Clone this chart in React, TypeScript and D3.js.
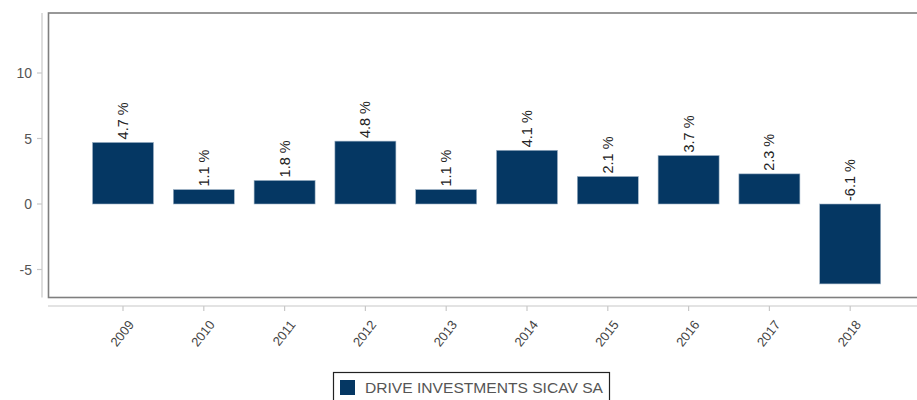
import React from "react";
import * as d3 from "d3";

const years = ["2009", "2010", "2011", "2012", "2013", "2014", "2015", "2016", "2017", "2018"];
const values = [4.7, 1.1, 1.8, 4.8, 1.1, 4.1, 2.1, 3.7, 2.3, -6.1];
const yTicks = [-5, 0, 5, 10];
const seriesName = "DRIVE INVESTMENTS SICAV SA";

const W = 917;
const H = 400;
const BAR = "#053763";
const FONT = "Arial, 'Liberation Sans', sans-serif";

export default function App() {
  const y = d3.scaleLinear().domain([0, 10]).range([204, 73]);
  const x = d3
    .scaleBand<string>()
    .domain(years)
    .range([82.6, 890.6])
    .paddingInner(0.245)
    .paddingOuter(0.1225);

  const top = 13;
  const bottom = 297.5;

  return (
    <svg
      width={W}
      height={H}
      style={{ position: "absolute", left: 0, top: 0, background: "#fff" }}
      fontFamily={FONT}
    >
      {/* plot box */}
      <rect x={48.5} y={top} width={W + 10} height={bottom - top} fill="none" stroke="#7f7f7f" strokeWidth={1.6} />
      {/* y axis */}
      <line x1={42} x2={42} y1={top} y2={bottom} stroke="#c8c8c8" strokeWidth={1.2} />
      {yTicks.map((t) => (
        <g key={t}>
          <line x1={37} x2={42} y1={y(t)} y2={y(t)} stroke="#c8c8c8" strokeWidth={1.2} />
          <text x={32} y={y(t)} dy="0.36em" textAnchor="end" fontSize={14} fill="#555">
            {t}
          </text>
        </g>
      ))}
      {/* x axis */}
      <line x1={48} x2={W} y1={306} y2={306} stroke="#c8c8c8" strokeWidth={1.2} />
      {years.map((yr) => {
        const cx = (x(yr) as number) + x.bandwidth() / 2;
        return (
          <g key={yr}>
            <line x1={cx} x2={cx} y1={306} y2={311} stroke="#c8c8c8" strokeWidth={1.2} />
            <text
              transform={`translate(${cx + 8},${322}) rotate(-52)`}
              textAnchor="end"
              dy="0.35em"
              fontSize={13}
              fill="#444"
            >
              {yr}
            </text>
          </g>
        );
      })}
      {/* bars */}
      {years.map((yr, i) => {
        const v = values[i];
        const bx = x(yr) as number;
        const y0 = y(Math.max(0, v));
        const y1 = y(Math.min(0, v));
        return (
          <rect
            key={yr}
            x={bx}
            y={y0}
            width={x.bandwidth()}
            height={y1 - y0}
            fill={BAR}
            stroke="#9fb3c6"
            strokeWidth={0.6}
          />
        );
      })}
      {/* labels */}
      {years.map((yr, i) => {
        const v = values[i];
        const cx = (x(yr) as number) + x.bandwidth() / 2;
        const ly = y(Math.max(0, v)) - 3;
        return (
          <text
            key={yr}
            transform={`translate(${cx},${ly}) rotate(-90)`}
            textAnchor="start"
            dy="0.35em"
            fontSize={14.5}
            fill="#222"
          >
            {`${v.toFixed(1)} %`}
          </text>
        );
      })}
      {/* legend */}
      <rect x={333.5} y={372.5} width={276} height={40} fill="#fff" stroke="#222" strokeWidth={1.2} />
      <rect x={340} y={380} width={15} height={15} fill={BAR} />
      <text x={365} y={393} fontSize={15} fill="#555" textLength={238} lengthAdjust="spacingAndGlyphs">
        {seriesName}
      </text>
    </svg>
  );
}
